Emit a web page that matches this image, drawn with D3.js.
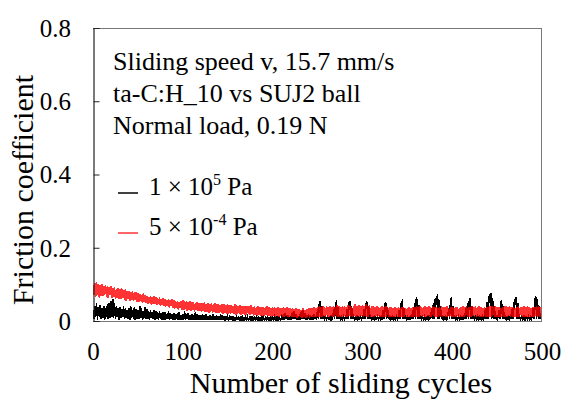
<!DOCTYPE html>
<html>
<head>
<meta charset="utf-8">
<script src="https://cdn.jsdelivr.net/npm/d3@7"></script>
<style>
  html, body { margin: 0; padding: 0; background: #fff; }
  svg { display: block; }
  text { font-family: "Liberation Serif", "Times New Roman", serif; fill: #000; }
</style>
</head>
<body>
<svg id="chart" width="566" height="399"></svg>
<script>
// ---- Data (one sample per sliding cycle, 0..500) ----
const cycleStep = 1;
const xTicks = [0, 100, 200, 300, 400, 500];
const yTicks = [0, 0.2, 0.4, 0.6, 0.8];
const yTickLabels = ["0", "0.2", "0.4", "0.6", "0.8"];
const seriesNames = ["1 × 10^5 Pa", "5 × 10^-4 Pa"];
const annotationLines = ["Sliding speed v, 15.7 mm/s", "ta-C:H_10 vs SUJ2 ball", "Normal load, 0.19 N"];

// 1 × 10^5 Pa (atmospheric)
const frictionAtm = [
  .030,.006,.042,.010,.048,.004,.038,.012,.044,.005,
  .036,.008,.040,.003,.034,.010,.046,.006,.050,.009,
  .055,.012,.060,.008,.048,.005,.040,.010,.035,.004,
  .038,.007,.033,.010,.042,.005,.036,.009,.030,.006,
  .034,.004,.040,.008,.031,.006,.037,.003,.033,.007,
  .030,.005,.042,.008,.035,.004,.028,.007,.038,.005,
  .032,.006,.027,.004,.030,.008,.025,.005,.029,.003,
  .026,.005,.023,.003,.028,.006,.022,.004,.025,.003,
  .024,.004,.020,.006,.026,.003,.021,.005,.019,.003,
  .022,.003,.018,.005,.021,.002,.024,.004,.017,.003,
  .020,.004,.027,.003,.018,.005,.022,.002,.017,.004,
  .019,.003,.016,.004,.025,.002,.018,.003,.015,.004,
  .017,.002,.020,.004,.015,.003,.018,.002,.014,.003,
  .016,.003,.013,.002,.019,.004,.014,.002,.012,.003,
  .014,.002,.012,.003,.016,.002,.011,.003,.013,.002,
  .012,.003,.010,.002,.014,.003,.011,.002,.009,.003,
  .011,.002,.013,.003,.010,.002,.012,.003,.009,.002,
  .010,.003,.012,.002,.009,.003,.011,.002,.010,.003,
  .009,.002,.011,.003,.010,.002,.008,.003,.012,.002,
  .010,.003,.009,.002,.011,.003,.008,.002,.010,.003,
  .009,.002,.012,.003,.010,.002,.011,.003,.009,.002,
  .012,.003,.018,.004,.022,.005,.015,.003,.011,.002,
  .014,.004,.024,.006,.028,.005,.020,.003,.013,.002,
  .018,.004,.026,.005,.030,.006,.022,.004,.016,.003,
  .012,.003,.016,.004,.013,.003,.018,.005,.014,.003,
  .032,.005,.047,.053,.005,.040,.005,.012,.004,.011,
  .004,.012,.005,.010,.004,.013,.005,.011,.032,.005,
  .046,.051,.005,.038,.005,.012,.004,.011,.005,.012,
  .004,.011,.005,.033,.005,.048,.055,.005,.041,.005,
  .012,.004,.011,.005,.013,.004,.010,.005,.012,.004,
  .011,.005,.032,.005,.047,.053,.005,.042,.005,.012,
  .004,.011,.005,.012,.004,.010,.005,.013,.004,.011,
  .005,.012,.004,.030,.005,.045,.051,.005,.038,.005,
  .012,.004,.011,.005,.013,.004,.010,.005,.012,.004,
  .012,.031,.005,.046,.051,.005,.036,.005,.011,.004,
  .012,.005,.010,.004,.013,.005,.030,.005,.050,.006,
  .062,.058,.005,.044,.005,.012,.004,.011,.005,.012,
  .004,.011,.005,.013,.004,.012,.005,.034,.005,.048,
  .006,.058,.062,.066,.005,.060,.005,.040,.005,.012,
  .004,.011,.005,.013,.004,.012,.034,.005,.052,.064,
  .005,.042,.005,.012,.004,.011,.005,.013,.004,.012,
  .005,.011,.004,.012,.005,.034,.005,.050,.006,.056,
  .062,.005,.040,.005,.012,.004,.011,.005,.013,.004,
  .012,.005,.011,.004,.013,.005,.012,.034,.005,.052,
  .006,.066,.070,.077,.005,.064,.005,.042,.005,.012,
  .004,.011,.030,.005,.048,.057,.005,.040,.005,.012,
  .004,.011,.005,.013,.004,.012,.005,.036,.005,.052,
  .058,.064,.005,.048,.005,.012,.004,.011,.005,.013,
  .004,.012,.005,.011,.004,.013,.005,.012,.004,.011,
  .034,.005,.055,.068,.005,.060,.005,.040,.005,.012,
  .005
];

// 5 × 10^-4 Pa (vacuum)
const frictionVac = [
  .098,.070,.104,.066,.107,.072,.100,.064,.097,.069,
  .101,.068,.094,.071,.099,.066,.096,.063,.092,.070,
  .095,.062,.090,.067,.093,.060,.088,.064,.091,.061,
  .086,.059,.089,.063,.084,.058,.087,.056,.083,.060,
  .082,.055,.079,.058,.081,.054,.078,.057,.080,.053,
  .076,.051,.074,.055,.072,.049,.075,.052,.071,.050,
  .068,.047,.066,.050,.067,.045,.065,.048,.068,.046,
  .064,.043,.062,.046,.065,.042,.061,.044,.063,.041,
  .060,.039,.058,.042,.061,.037,.057,.040,.059,.036,
  .056,.034,.053,.037,.055,.031,.052,.035,.054,.030,
  .057,.029,.053,.033,.055,.028,.052,.031,.054,.027,
  .051,.029,.053,.026,.050,.030,.052,.027,.049,.028,
  .050,.025,.048,.027,.051,.024,.047,.026,.049,.023,
  .047,.024,.049,.022,.046,.025,.048,.021,.045,.023,
  .046,.021,.044,.023,.047,.020,.045,.022,.043,.019,
  .045,.020,.043,.018,.044,.021,.042,.019,.046,.017,
  .043,.018,.041,.020,.044,.017,.042,.019,.040,.016,
  .042,.017,.040,.019,.041,.016,.043,.018,.039,.015,
  .040,.016,.038,.014,.041,.017,.039,.015,.037,.013,
  .039,.014,.037,.016,.040,.013,.038,.015,.036,.012,
  .037,.013,.039,.012,.036,.014,.038,.011,.035,.013,
  .036,.012,.038,.011,.035,.013,.037,.010,.034,.012,
  .034,.011,.036,.010,.033,.012,.035,.009,.032,.011,
  .033,.010,.031,.009,.034,.011,.030,.008,.032,.010,
  .034,.009,.036,.011,.035,.010,.038,.012,.036,.010,
  .038,.011,.040,.012,.037,.010,.041,.013,.039,.011,
  .040,.012,.038,.010,.042,.013,.039,.011,.041,.012,
  .039,.013,.043,.011,.040,.012,.038,.010,.041,.013,
  .042,.012,.039,.011,.044,.013,.040,.012,.038,.011,
  .041,.013,.045,.012,.042,.014,.043,.012,.040,.013,
  .044,.012,.042,.013,.045,.011,.041,.012,.043,.010,
  .040,.012,.042,.011,.039,.013,.041,.012,.038,.011,
  .039,.011,.041,.012,.037,.010,.040,.012,.038,.011,
  .037,.012,.039,.010,.036,.011,.038,.012,.035,.010,
  .038,.011,.036,.012,.039,.010,.037,.011,.036,.012,
  .035,.010,.037,.012,.036,.011,.039,.012,.037,.010,
  .040,.012,.038,.011,.041,.013,.037,.012,.039,.011,
  .041,.012,.039,.013,.042,.011,.038,.012,.040,.013,
  .037,.011,.039,.010,.036,.012,.038,.011,.041,.012,
  .039,.013,.037,.011,.040,.012,.036,.010,.038,.012,
  .038,.011,.036,.010,.039,.012,.037,.011,.035,.010,
  .039,.012,.041,.011,.038,.013,.040,.012,.037,.011,
  .037,.012,.040,.013,.038,.011,.042,.012,.039,.013,
  .040,.012,.038,.011,.036,.010,.039,.012,.037,.011,
  .038,.012,.040,.011,.042,.013,.039,.012,.041,.011,
  .037,.011,.039,.010,.036,.012,.038,.011,.040,.012,
  .041,.012,.038,.013,.040,.011,.037,.012,.039,.010,
  .036,.010,.038,.012,.040,.011,.037,.013,.039,.012,
  .040,.012,.038,.011,.041,.012,.037,.010,.036,.011,
  .039,.012,.037,.013,.041,.012,.042,.011,.038,.012,
  .039
];

// ---- Layout ----
const svg = d3.select("#chart");
const mLeft = 93, mRight = 542, mTop = 28, mBottom = 321;

const x = d3.scaleLinear().domain([0, 500]).range([mLeft, mRight]);
const y = d3.scaleLinear().domain([0, 0.8]).range([mBottom, mTop]);

svg.append("defs").append("clipPath").attr("id", "plotClip")
  .append("rect").attr("x", mLeft).attr("y", mTop).attr("width", mRight - mLeft).attr("height", mBottom - mTop);

const line = d3.line().x((d, i) => x(i * cycleStep)).y(d => y(d));

const plot = svg.append("g").attr("clip-path", "url(#plotClip)");
plot.append("path").datum(frictionAtm)
  .attr("d", line).attr("fill", "none").attr("stroke", "#000").attr("stroke-width", 1.5)
  .attr("shape-rendering", "crispEdges");
plot.append("path").datum(frictionVac)
  .attr("d", line).attr("fill", "none").attr("stroke", "#ff0000").attr("stroke-opacity", 0.8).attr("stroke-width", 1.5)
  .attr("shape-rendering", "crispEdges");

// Frame
svg.append("line").attr("x1", mLeft).attr("x2", mRight).attr("y1", mTop + 0.5).attr("y2", mTop + 0.5)
  .attr("stroke", "#777").attr("stroke-width", 1);
svg.append("line").attr("x1", mRight - 0.5).attr("x2", mRight - 0.5).attr("y1", mTop).attr("y2", mBottom)
  .attr("stroke", "#777").attr("stroke-width", 1);
svg.append("line").attr("x1", mLeft).attr("x2", mRight).attr("y1", mBottom + 0.5).attr("y2", mBottom + 0.5)
  .attr("stroke", "#777").attr("stroke-width", 1);

// Y axis (ticks inward)
const yAxis = d3.axisRight(y).tickValues(yTicks).tickSize(6).tickFormat("");
const yg = svg.append("g").attr("transform", `translate(${mLeft + 0.5},0)`).call(yAxis);
yg.select(".domain").attr("stroke", "#222").attr("stroke-width", 1.2);
yg.selectAll(".tick line").attr("stroke", "#222");

svg.append("g").selectAll("text").data(yTicks).join("text")
  .attr("x", 71).attr("y", d => y(d)).attr("dy", "0.35em")
  .attr("text-anchor", "end").attr("font-size", 25)
  .text((d, i) => yTickLabels[i]);

// X axis labels (no tick marks visible)
const xAxis = d3.axisBottom(x).tickValues(xTicks).tickSize(0).tickPadding(0).tickFormat(d3.format("d"));
const xg = svg.append("g").attr("transform", `translate(0,${mBottom})`).call(xAxis);
xg.select(".domain").remove();
xg.selectAll(".tick text").attr("y", 39).attr("dy", 0).attr("fill", "#000")
  .attr("font-size", 25).style("font-family", '"Liberation Serif", serif');

// Axis titles
svg.append("text").attr("x", 341).attr("y", 393).attr("text-anchor", "middle")
  .attr("font-size", 30).text("Number of sliding cycles");
svg.append("text").attr("transform", "translate(33,190) rotate(-90)").attr("text-anchor", "middle")
  .attr("font-size", 30).text("Friction coefficient");

// Annotation
svg.append("g").selectAll("text").data(annotationLines).join("text")
  .attr("x", 113).attr("y", (d, i) => 70 + i * 32)
  .attr("font-size", 26).text(d => d);

// Legend
const legendColors = ["#000", "rgba(255,0,0,0.8)"];
const legendY = [195, 235];
const legend = svg.append("g");
seriesNames.forEach((name, i) => {
  legend.append("line").attr("x1", 118).attr("x2", 138).attr("y1", legendY[i] - 2).attr("y2", legendY[i] - 2)
    .attr("stroke", legendColors[i]).attr("stroke-width", 1.5);
  const [base, exp] = name.split("^");
  const parts = exp.split(" ");
  const t = legend.append("text").attr("x", 149).attr("y", legendY[i]).attr("font-size", 25);
  t.append("tspan").text(base);
  t.append("tspan").attr("dy", -10).attr("font-size", 16).text(parts[0]);
  t.append("tspan").attr("dy", 10).text(" " + parts[1]);
});
</script>
</body>
</html>
